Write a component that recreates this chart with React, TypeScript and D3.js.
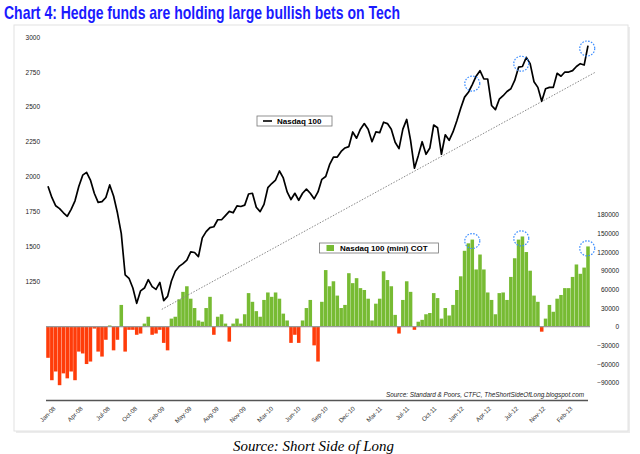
import { useEffect, useRef } from 'react'
import * as d3 from 'd3'

// biweekly readings, Jan 2008 .. Mar 2013
const nasdaq = [
  1930, 1850, 1790, 1770, 1740, 1715, 1765, 1826, 1930, 2010,
  2030, 1975, 1880, 1815, 1820, 1850, 1940, 1860, 1740, 1590,
  1295, 1270, 1200, 1090, 1180, 1200, 1260, 1210, 1190, 1240,
  1110, 1140, 1250, 1320, 1355, 1375, 1400, 1460, 1455, 1425,
  1560, 1605, 1634, 1640, 1690, 1690, 1720, 1750, 1740, 1790,
  1785, 1795, 1875, 1880, 1780, 1748, 1800, 1920, 1950, 1975,
  2040, 1990, 1890, 1835, 1880, 1830, 1880, 1910, 1880, 1840,
  1890, 1980, 2000, 2085, 2140, 2140, 2180, 2205, 2215, 2320,
  2275, 2340, 2380, 2340, 2250, 2320, 2315, 2390, 2380, 2340,
  2246, 2200, 2340, 2410, 2260, 2060, 2150, 2250, 2160, 2205,
  2370, 2350, 2160, 2300, 2260, 2320, 2400, 2490, 2570, 2605,
  2660, 2720, 2760, 2700, 2700, 2510, 2480, 2555, 2580, 2610,
  2630, 2690, 2785, 2790, 2855, 2810, 2680, 2640, 2540, 2630,
  2640, 2640, 2741, 2720, 2750, 2750, 2760, 2790, 2810, 2800,
  2940
]

const cot = [
  -50000, -86000, -72000, -94000, -75000, -83000, -72000, -86000, -40000, -43000,
  -60000, -56000, -3000, -40000, -48000, -21000, 2000, -38000, -21000, 35000,
  -40000, -5000, -5000, -13000, -11000, 5000, 16000, -13000, -11000, -5000,
  -26000, -38000, 13000, 16000, 44000, 56000, 65000, 45000, 30000, 10000,
  8000, 30000, 48000, -13000, 16000, 20000, 5000, -24000, 5000, 13000,
  5000, 20000, 54000, 40000, 25000, 16000, 43000, 55000, 48000, 55000,
  45000, 21000, 10000, -26000, -13000, -26000, 10000, 30000, 43000, -30000,
  -56000, 40000, 91000, 65000, 73000, 50000, 30000, 35000, 86000, 70000,
  78000, 62000, 59000, 45000, 10000, 37000, 45000, 89000, 75000, 65000,
  19000, -11000, 43000, 73000, 56000, -5000, 8000, 11000, 20000, 22000,
  54000, 46000, 13000, 30000, 18000, 35000, 59000, 81000, 122000, 134000,
  140000, 92000, 116000, 92000, 55000, 43000, 20000, 54000, 55000, 43000,
  80000, 110000, 140000, 145000, 120000, 90000, 50000, 40000, -8000, 13000,
  35000, 24000, 45000, 51000, 62000, 62000, 80000, 100000, 85000, 95000,
  129000
]

const xLabels = [
  'Jan-08', 'Apr-08', 'Jul-08', 'Oct-08', 'Feb-09', 'May-09', 'Aug-09',
  'Nov-09', 'Mar-10', 'Jun-10', 'Sep-10', 'Dec-10', 'Mar-11', 'Jul-11',
  'Oct-11', 'Jan-12', 'Apr-12', 'Jul-12', 'Nov-12', 'Feb-13'
]
const leftTicks = [1250, 1500, 1750, 2000, 2250, 2500, 2750, 3000]
const rightTicks = [-90000, -60000, -30000, 0, 30000, 60000, 90000, 120000, 150000, 180000]

// dotted support line (index, value)
const trendIdx = [29.5, 142]
const trendVal = [1047, 2750]

// highlighted peaks
const peakIdx = [110, 122.7, 139.8]
const peakLine = [2667, 2810, 2919]
const peakCot = [137700, 142000, 126000]

const W = 640
const H = 454
const GREEN = '#77bb33'
const RED = '#ff3c0a'

export default function App() {
  const svgRef = useRef<SVGSVGElement>(null)

  useEffect(() => {
    if (!svgRef.current) return
    const svg = d3.select(svgRef.current)
    svg.selectAll('*').remove()

    const x = d3.scaleLinear().domain([0, nasdaq.length - 1]).range([48, 588])
    const yL = d3.scaleLinear().domain([1000, 3000]).range([315.9, 37.2])
    const yR = d3.scaleLinear().domain([-90000, 180000]).range([382.7, 214.7])
    const step = x(1) - x(0)
    const labelX = d3.scalePoint<string>().domain(xLabels).range([56, 573])

    // title
    svg.append('text')
      .attr('x', 4)
      .attr('y', 18.5)
      .attr('font-family', "'Liberation Sans Narrow', 'Liberation Sans', Arial, sans-serif")
      .attr('font-weight', 'bold')
      .attr('font-size', 19)
      .attr('fill', '#1a1aff')
      .attr('textLength', 396)
      .attr('lengthAdjust', 'spacingAndGlyphs')
      .text('Chart 4: Hedge funds are holding large bullish bets on Tech')

    // panel with soft shadow
    svg.append('rect')
      .attr('x', 16).attr('y', 27).attr('width', 614).attr('height', 406)
      .attr('fill', '#ececec')
    svg.append('rect')
      .attr('x', 14).attr('y', 25).attr('width', 614).attr('height', 406)
      .attr('fill', '#fff')
      .attr('stroke', '#e2e2e2')
      .attr('stroke-width', 1)

    // bars
    svg.append('g')
      .selectAll('rect')
      .data(cot)
      .enter()
      .append('rect')
      .attr('x', (d, i) => x(i) - step * 0.46)
      .attr('width', step * 0.92)
      .attr('y', d => Math.min(yR(d), yR(0)))
      .attr('height', d => Math.abs(yR(d) - yR(0)))
      .attr('fill', d => d >= 0 ? GREEN : RED)

    // zero line
    svg.append('line')
      .attr('x1', 46).attr('x2', 590)
      .attr('y1', yR(0)).attr('y2', yR(0))
      .attr('stroke', '#999')
      .attr('stroke-width', 1.2)

    // trend line
    svg.append('line')
      .attr('x1', x(trendIdx[0])).attr('y1', yL(trendVal[0]))
      .attr('x2', x(trendIdx[1])).attr('y2', yL(trendVal[1]))
      .attr('stroke', '#888')
      .attr('stroke-width', 1)
      .attr('stroke-dasharray', '1.5,1.5')

    // nasdaq line
    const line = d3.line<number>()
      .x((d, i) => x(i))
      .y(d => yL(d))
    svg.append('path')
      .datum(nasdaq)
      .attr('d', line)
      .attr('fill', 'none')
      .attr('stroke', '#000')
      .attr('stroke-width', 1.7)
      .attr('stroke-linejoin', 'round')

    // highlight circles
    const circles = svg.append('g')
      .attr('fill', 'none')
      .attr('stroke', '#3a8cff')
      .attr('stroke-width', 1.2)
      .attr('stroke-dasharray', '1.6,1.4')
    peakIdx.forEach((p, i) => {
      circles.append('circle').attr('cx', x(p)).attr('cy', yL(peakLine[i])).attr('r', 7.5)
      circles.append('circle').attr('cx', x(p)).attr('cy', yR(peakCot[i])).attr('r', 7.5)
    })

    // left axis
    const left = svg.append('g')
      .attr('transform', 'translate(40,0)')
      .call(d3.axisLeft(yL).tickValues(leftTicks).tickSize(0).tickPadding(0).tickFormat(d3.format('d')))
    left.select('.domain').remove()
    left.selectAll('text')
      .attr('font-family', "'Liberation Sans', Arial, sans-serif")
      .attr('font-size', 6.5)
      .attr('fill', '#222')

    // right axis
    const right = svg.append('g')
      .attr('transform', 'translate(619,0)')
      .call(d3.axisLeft(yR).tickValues(rightTicks).tickSize(0).tickPadding(0).tickFormat(d3.format('d')))
    right.select('.domain').remove()
    right.selectAll('text')
      .attr('font-family', "'Liberation Sans', Arial, sans-serif")
      .attr('font-size', 6.5)
      .attr('fill', '#222')

    // bottom axis line
    svg.append('line')
      .attr('x1', 46).attr('x2', 588)
      .attr('y1', 400.5).attr('y2', 400.5)
      .attr('stroke', '#555')
      .attr('stroke-width', 1.4)

    // x labels
    svg.append('g')
      .selectAll('text')
      .data(xLabels)
      .enter()
      .append('text')
      .attr('transform', d => `translate(${labelX(d)},409) rotate(-45)`)
      .attr('text-anchor', 'end')
      .attr('font-family', "'Liberation Sans', Arial, sans-serif")
      .attr('font-size', 6.2)
      .attr('fill', '#333')
      .text(d => d)

    // source inside chart
    svg.append('text')
      .attr('x', 584)
      .attr('y', 397)
      .attr('text-anchor', 'end')
      .attr('font-family', "'Liberation Sans', Arial, sans-serif")
      .attr('font-style', 'italic')
      .attr('font-size', 6.8)
      .attr('fill', '#222')
      .attr('textLength', 198)
      .attr('lengthAdjust', 'spacingAndGlyphs')
      .text('Source: Standard & Poors, CTFC, TheShortSideOfLong.blogspot.com')

    // legends
    const legendFont = "'Liberation Sans', Arial, sans-serif"
    const lg1 = svg.append('g').attr('transform', 'translate(257,116)')
    lg1.append('rect').attr('width', 75).attr('height', 10)
      .attr('fill', '#fff').attr('stroke', '#777').attr('stroke-width', 0.8)
    lg1.append('line').attr('x1', 6).attr('x2', 15).attr('y1', 5).attr('y2', 5)
      .attr('stroke', '#000').attr('stroke-width', 1.6)
    lg1.append('text').attr('x', 20).attr('y', 8)
      .attr('font-family', legendFont).attr('font-weight', 'bold').attr('font-size', 8)
      .text('Nasdaq 100')

    const lg2 = svg.append('g').attr('transform', 'translate(319.5,243)')
    lg2.append('rect').attr('width', 119).attr('height', 10)
      .attr('fill', '#fff').attr('stroke', '#777').attr('stroke-width', 0.8)
    lg2.append('rect').attr('x', 7).attr('y', 2).attr('width', 7.5).attr('height', 6)
      .attr('fill', GREEN)
    lg2.append('text').attr('x', 20.5).attr('y', 8)
      .attr('font-family', legendFont).attr('font-weight', 'bold').attr('font-size', 8)
      .text('Nasdaq 100 (mini) COT')

    // bottom source
    svg.append('text')
      .attr('x', 233)
      .attr('y', 451)
      .attr('font-family', "'Liberation Serif', 'Times New Roman', serif")
      .attr('font-style', 'italic')
      .attr('font-size', 15.5)
      .attr('fill', '#000')
      .attr('textLength', 161)
      .attr('lengthAdjust', 'spacingAndGlyphs')
      .text('Source: Short Side of Long')
  }, [])

  return (
    <svg
      ref={svgRef}
      width={W}
      height={H}
      style={{ position: 'absolute', left: 0, top: 0, background: '#fff' }}
    />
  )
}
